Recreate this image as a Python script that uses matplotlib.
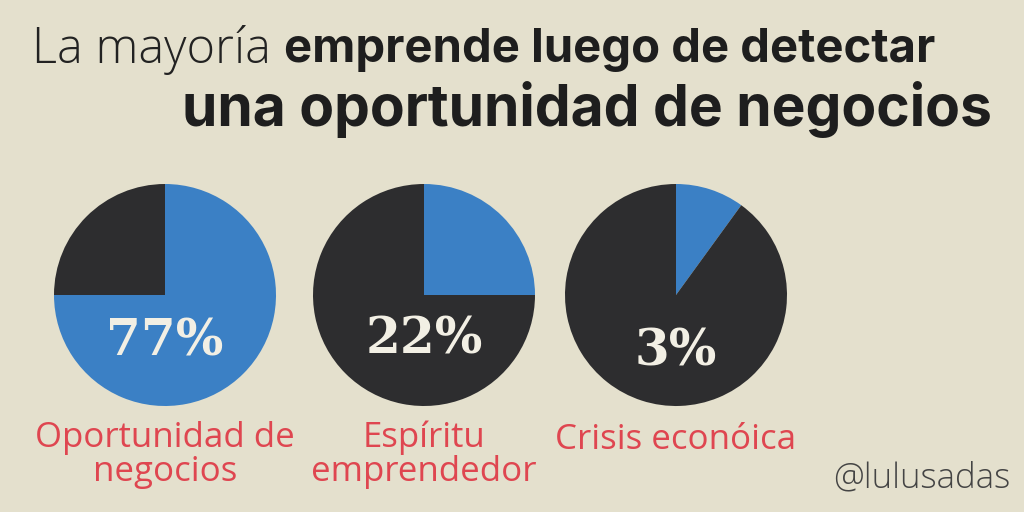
import matplotlib
matplotlib.use("Agg")
import matplotlib.pyplot as plt

pct_labels = ["77%", "22%", "3%"]
blue_share = [75, 25, 10]   # visual share of the blue wedge as drawn
categories = ["Oportunidad de\nnegocios", "Espíritu\nemprendedor", "Crisis econóica"]

BG = "#e4e0cd"; BLUE = "#3b80c5"; DARK = "#2d2d2f"; RED = "#df4650"

fig = plt.figure(figsize=(10.24, 5.12), dpi=100, facecolor=BG)
ax = fig.add_axes([0, 0, 1, 1])

centers = [(165, 295), (424, 295), (676, 295)]
label_y = [(342, 455), (340, 455), (352, 440)]
for (cx, cy), b, p, cat, (py, ly) in zip(centers, blue_share, pct_labels, categories, label_y):
    ax.pie([b, 100 - b], colors=[BLUE, DARK], startangle=-90, counterclock=True,
           center=(cx, cy), radius=111, frame=True,
           wedgeprops=dict(linewidth=0))
    ax.text(cx, py, p, ha="center", va="center", fontsize=36, fontweight="bold",
            family="DejaVu Serif", color="#f2efe4")
    ax.text(cx, ly, cat, ha="center", va="center", fontsize=25, color=RED,
            family="Open Sans", linespacing=1.0)
ax.set_xlim(0, 1024); ax.set_ylim(512, 0); ax.set_aspect("equal"); ax.axis("off")

t1 = ax.text(32, 50, "La mayoría ", fontsize=35, family="Open Sans", fontweight="light",
             color="#222", va="center")
fig.canvas.draw()
bb = t1.get_window_extent()
ax.annotate("emprende luego de detectar", xy=(bb.x1, 512 - 50), xycoords="figure pixels",
            fontsize=34, family="Inter", fontweight="bold", color="#1e1e1e", va="center")
ax.text(992, 110, "una oportunidad de negocios", ha="right", va="center", fontsize=41,
        family="Inter", fontweight="bold", color="#1e1e1e")
ax.text(1010, 478, "@lulusadas", ha="right", va="center", fontsize=25,
        family="Open Sans", fontweight="light", color="#444")
fig.savefig("out.png", dpi=100, facecolor=BG)
